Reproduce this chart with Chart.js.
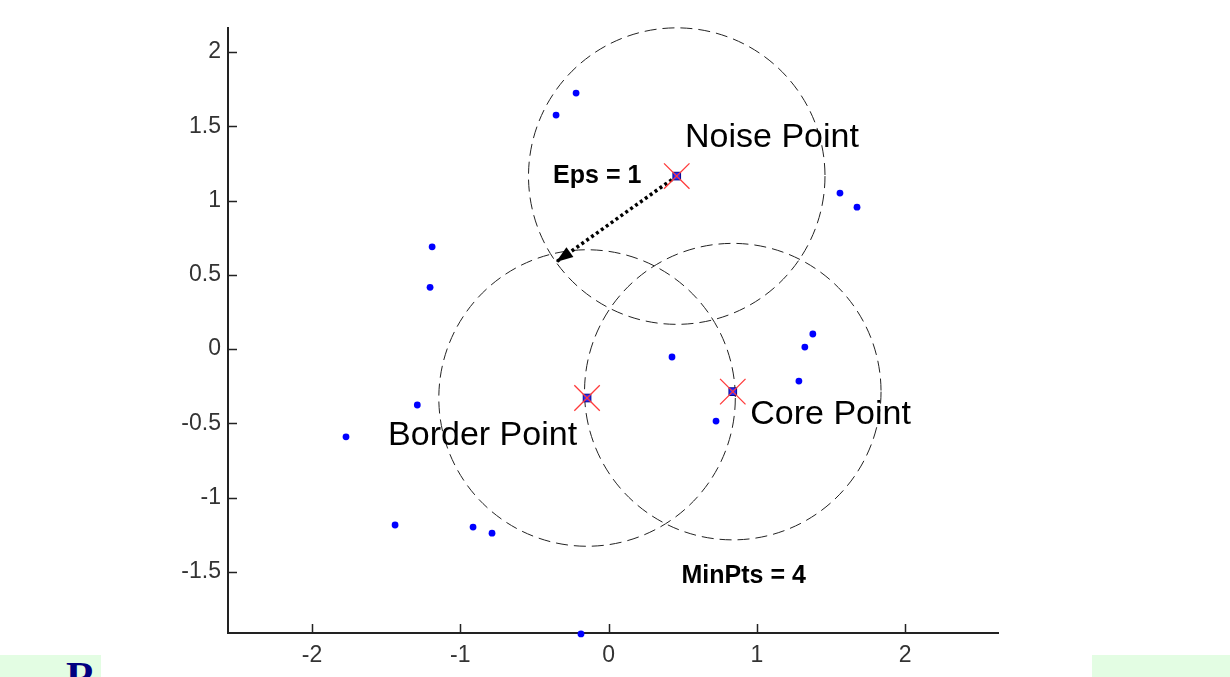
<!DOCTYPE html>
<html>
<head>
<meta charset="utf-8">
<script src="https://cdn.jsdelivr.net/npm/chart.js@4.4.1/dist/chart.umd.min.js"></script>
<style>
  body { margin: 0; background: #fff; }
  #wrap { position: relative; width: 1230px; height: 677px; overflow: hidden; }
  #dbscan { position: absolute; left: 0; top: 0; }
  .band { position: absolute; top: 655px; height: 22px; background: #e3fde3; }
  #rchar { position: absolute; left: 66px; top: 656px; font: bold 42px "Liberation Serif", "Times New Roman", serif; color: #000080; line-height: 42px; }
</style>
</head>
<body>
<div id="wrap">
  <div class="band" style="left:0;width:101px"></div>
  <div class="band" style="left:1092px;width:138px"></div>
  <div id="rchar">R</div>
  <canvas id="dbscan" width="1230" height="677"></canvas>
</div>
<script>
// sample points
const pointX = [-0.219, -0.354, 1.561, 1.676, -1.190, -1.204, 1.378, 1.324, 0.428, 1.284, -1.290, 0.725, -1.771, -1.440, -0.914, -0.786, -0.186];
const pointY = [1.724, 1.576, 1.051, 0.956, 0.689, 0.416, 0.102, 0.014, -0.053, -0.215, -0.376, -0.484, -0.590, -1.184, -1.198, -1.239, -1.917];

// labelled points: noise, border, core
const specialNames = ['Noise Point', 'Border Point', 'Core Point'];
const specialX = [0.460, -0.145, 0.838];
const specialY = [1.165, -0.329, -0.286];
const nameX = [0.516, -1.487, 0.956];
const nameY = [1.362, -0.645, -0.504];

const eps = 1;
const arrowX = [0.460, -0.354];
const arrowY = [1.165, 0.586];

const paramText = ['Eps = 1', 'MinPts = 4'];
const paramX = [-0.374, 0.492];
const paramY = [1.118, -1.574];

const xTicks = [-2, -1, 0, 1, 2];
const yTicks = [2, 1.5, 1, 0.5, 0, -0.5, -1, -1.5];

const toXY = (xs, ys) => xs.map((x, i) => ({ x: x, y: ys[i] }));
const FONT = '"Liberation Sans", Arial, sans-serif';

const decor = {
  id: 'decor',
  beforeDatasetsDraw(chart) {
    const { ctx, scales: { x, y } } = chart;
    ctx.save();
    ctx.strokeStyle = '#222';
    ctx.lineWidth = 1;
    ctx.setLineDash([12, 6]);
    specialX.forEach((cx, i) => {
      const px = x.getPixelForValue(cx);
      const py = y.getPixelForValue(specialY[i]);
      const r = x.getPixelForValue(cx + eps) - px;
      ctx.beginPath();
      ctx.arc(px, py, r, 0, Math.PI * 2);
      ctx.stroke();
    });
    ctx.restore();
  },
  afterDatasetsDraw(chart) {
    const { ctx, scales: { x, y } } = chart;
    // arrow head
    const x0 = x.getPixelForValue(arrowX[0]), y0 = y.getPixelForValue(arrowY[0]);
    const x1 = x.getPixelForValue(arrowX[1]), y1 = y.getPixelForValue(arrowY[1]);
    const a = Math.atan2(y1 - y0, x1 - x0);
    const len = 17, half = 6;
    ctx.save();
    ctx.fillStyle = '#000';
    ctx.beginPath();
    ctx.moveTo(x1, y1);
    ctx.lineTo(x1 - len * Math.cos(a) + half * Math.sin(a), y1 - len * Math.sin(a) - half * Math.cos(a));
    ctx.lineTo(x1 - len * Math.cos(a) - half * Math.sin(a), y1 - len * Math.sin(a) + half * Math.cos(a));
    ctx.closePath();
    ctx.fill();

    // text
    ctx.fillStyle = '#000';
    ctx.textBaseline = 'alphabetic';
    ctx.textAlign = 'left';
    ctx.font = '34px ' + FONT;
    specialNames.forEach((t, i) => ctx.fillText(t, x.getPixelForValue(nameX[i]), y.getPixelForValue(nameY[i])));
    ctx.font = 'bold 25px ' + FONT;
    paramText.forEach((t, i) => ctx.fillText(t, x.getPixelForValue(paramX[i]), y.getPixelForValue(paramY[i])));
    ctx.restore();
  },
  afterDraw(chart) {
    // inward tick marks
    const { ctx, chartArea, scales: { x, y } } = chart;
    ctx.save();
    ctx.strokeStyle = '#222';
    ctx.lineWidth = 1.5;
    ctx.beginPath();
    xTicks.forEach(v => {
      const px = Math.round(x.getPixelForValue(v)) + 0.5;
      ctx.moveTo(px, chartArea.bottom);
      ctx.lineTo(px, chartArea.bottom - 9);
    });
    yTicks.forEach(v => {
      const py = Math.round(y.getPixelForValue(v)) + 0.5;
      ctx.moveTo(chartArea.left, py);
      ctx.lineTo(chartArea.left + 9, py);
    });
    ctx.stroke();
    ctx.restore();
  }
};

new Chart(document.getElementById('dbscan'), {
  type: 'scatter',
  data: {
    datasets: [
      {
        label: 'marker',
        data: toXY(specialX, specialY),
        pointStyle: 'crossRot',
        pointRadius: 18,
        borderColor: '#ff3a3a',
        borderWidth: 1.3,
        clip: false
      },
      {
        label: 'special',
        data: toXY(specialX, specialY),
        pointStyle: 'rect',
        pointRadius: 5.4,
        backgroundColor: '#2a2aff',
        borderColor: '#000090',
        borderWidth: 1,
        clip: false
      },
      {
        label: 'points',
        data: toXY(pointX, pointY),
        pointStyle: 'circle',
        pointRadius: 3.4,
        backgroundColor: '#0000ff',
        borderWidth: 0,
        clip: false
      },
      {
        label: 'eps',
        data: toXY(arrowX, arrowY),
        showLine: true,
        borderColor: '#000',
        borderWidth: 3.5,
        borderDash: [3, 3],
        pointRadius: 0
      }
    ]
  },
  options: {
    responsive: false,
    animation: false,
    devicePixelRatio: 1,
    layout: { padding: { left: 0, top: 28, right: 232, bottom: 0 } },
    plugins: { legend: { display: false }, tooltip: { enabled: false } },
    scales: {
      x: {
        type: 'linear',
        min: -2.567,
        max: 2.627,
        afterFit: s => { s.height = 44; },
        afterBuildTicks: s => { s.ticks = xTicks.map(v => ({ value: v })); },
        grid: { display: false, drawTicks: false },
        border: { display: true, color: '#222', width: 2 },
        ticks: { padding: 9, color: '#333', font: { family: FONT, size: 23 }, callback: v => String(v) }
      },
      y: {
        type: 'linear',
        min: -1.911,
        max: 2.162,
        afterFit: s => { s.width = 228; },
        afterBuildTicks: s => { s.ticks = yTicks.map(v => ({ value: v })); },
        grid: { display: false, drawTicks: false },
        border: { display: true, color: '#222', width: 2 },
        ticks: { padding: 7, color: '#333', font: { family: FONT, size: 23 }, callback: v => String(v) }
      }
    }
  },
  plugins: [decor]
});
</script>
</body>
</html>
